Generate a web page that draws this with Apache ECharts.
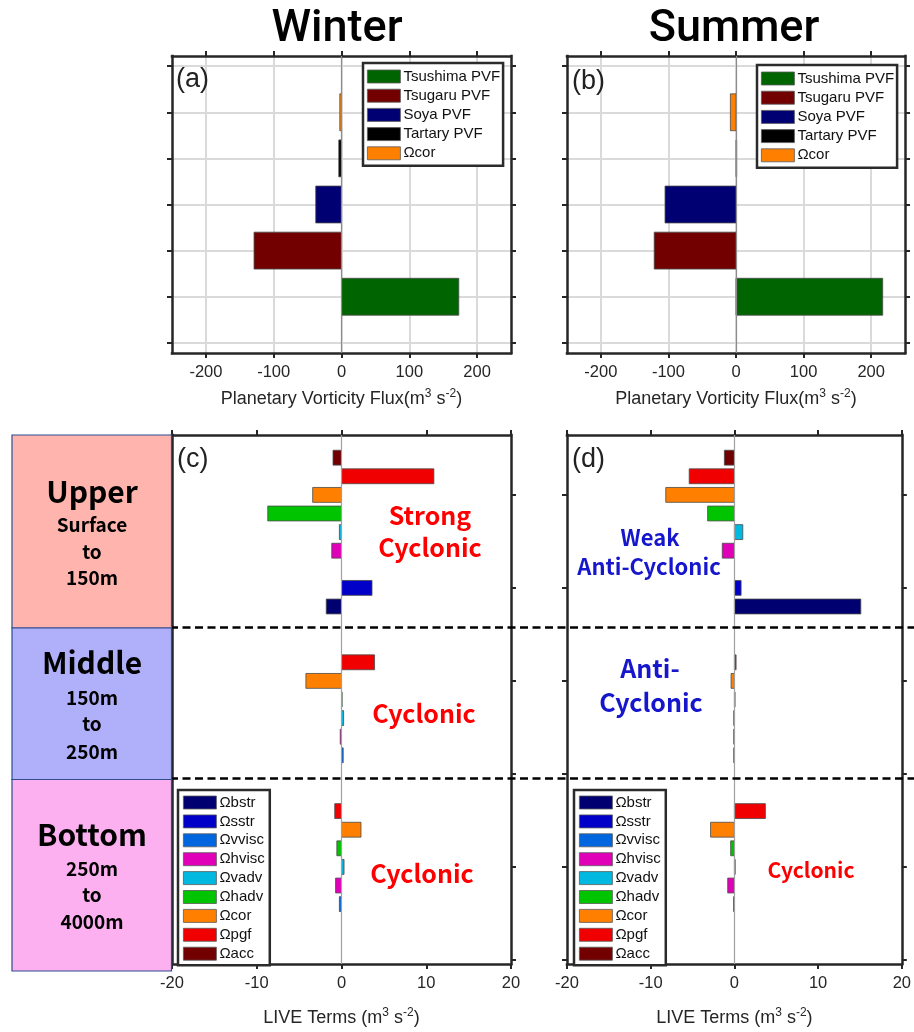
<!DOCTYPE html>
<html><head><meta charset="utf-8">
<script src="https://cdn.jsdelivr.net/npm/echarts@6/dist/echarts.min.js"></script>
<style>html,body{margin:0;padding:0;background:#fff}#c{width:914px;height:1032px}</style>
</head><body><div id="c"></div>
<script>
// ---------- Data: panels (a)/(b) planetary vorticity flux ----------
const pvfNames = ['Tsushima PVF', 'Tsugaru PVF', 'Soya PVF', 'Tartary PVF', 'Ωcor'];
const pvfPos = [1, 2, 3, 4, 5];
const pvfWinter = [173, -129, -38, -4, -2.5];
const pvfSummer = [217, -121, -105, 1, -8.3];
const pvfColors = ['#006400', '#720000', '#000072', '#000000', '#ff8000'];
const pvfXTicks = [-200, -100, 0, 100, 200];
const pvfYTicks = [0, 1, 2, 3, 4, 5, 6];

// ---------- Data: panels (c)/(d) LIVE terms ----------
const termNames = ['Ωacc', 'Ωpgf', 'Ωcor', 'Ωhadv', 'Ωvadv', 'Ωhvisc', 'Ωvvisc', 'Ωsstr', 'Ωbstr'];
const termColors = ['#720000', '#f00000', '#ff8000', '#00c400', '#00b8e0', '#e000b8', '#0066e0', '#0000c8', '#000070'];
const layerStart = [3, 13, 21];
const layerDividers = [12, 20];
const winterUpper  = [-1.0, 10.9, -3.4, -8.7, -0.25, -1.15, 0, 3.6, -1.8];
const winterMiddle = [0, 3.9, -4.2, 0.08, 0.25, -0.15, 0.2, 0, 0];
const winterBottom = [0, -0.8, 2.3, -0.55, 0.3, -0.7, -0.25, 0, 0];
const summerUpper  = [-1.2, -5.4, -8.2, -3.2, 1.0, -1.45, 0, 0.8, 15.1];
const summerMiddle = [0, 0.2, -0.4, 0.08, -0.08, -0.08, -0.08, 0, 0];
const summerBottom = [0, 3.7, -2.85, -0.45, 0.1, -0.8, -0.1, 0, 0];
const liveXTicks = [-20, -10, 0, 10, 20];
const liveYTicks = [5, 10, 15, 20, 25, 30];

// ---------- helpers ----------
const frameColor = '#262626';
const labelFont = 'Liberation Sans';
const xAxes = [], yAxes = [];

function addAxes(g, xc, yc) {
  const lineS = {show: true, onZero: false, lineStyle: {color: frameColor, width: 2.5, cap: 'square'}};
  const xt = {show: true, length: 5, lineStyle: {color: frameColor, width: 2}, customValues: xc.ticks};
  const yt = {show: true, length: 5, lineStyle: {color: frameColor, width: 2}, customValues: yc.ticks};
  const base = {type: 'value', gridIndex: g};
  xAxes.push(Object.assign({}, base, {
    position: 'bottom', min: xc.min, max: xc.max, interval: xc.interval,
    minInterval: xc.step, maxInterval: xc.step, splitNumber: xc.split,
    axisLine: lineS, axisTick: xt,
    axisLabel: {show: true, customValues: xc.ticks, margin: 11, color: '#262626', fontSize: 16.5, fontFamily: labelFont,
      formatter: v => (xc.ticks.indexOf(v) >= 0 ? String(v) : '')},
    splitLine: {show: xc.grid, lineStyle: {color: '#dadada', width: 2}},
    name: xc.name, nameLocation: 'middle', nameGap: xc.nameGap,
    nameTextStyle: {fontSize: 18, fontFamily: labelFont, color: '#262626',
      rich: {sup: {fontSize: 12, fontFamily: labelFont, color: '#262626', padding: [0, 0, 10, 0]}}}
  }));
  xAxes.push(Object.assign({}, base, {
    position: 'top', min: xc.min, max: xc.max, interval: xc.interval,
    minInterval: xc.step, maxInterval: xc.step, splitNumber: xc.split,
    axisLine: lineS, axisTick: xt, axisLabel: {show: false}, splitLine: {show: false}
  }));
  yAxes.push(Object.assign({}, base, {
    position: 'left', min: yc.min, max: yc.max, inverse: yc.inverse,
    minInterval: yc.step, maxInterval: yc.step, splitNumber: yc.split,
    axisLine: lineS, axisTick: yt, axisLabel: {show: false, customValues: yc.ticks},
    splitLine: {show: yc.grid, lineStyle: {color: '#dadada', width: 2}}
  }));
  yAxes.push(Object.assign({}, base, {
    position: 'right', min: yc.min, max: yc.max, inverse: yc.inverse,
    minInterval: yc.step, maxInterval: yc.step, splitNumber: yc.split,
    axisLine: lineS, axisTick: yt, axisLabel: {show: false}, splitLine: {show: false}
  }));
}

const pvfX = {min: -250, max: 250, step: 100, split: 5, ticks: pvfXTicks, grid: true,
  name: 'Planetary Vorticity Flux(m{sup|3} s{sup|-2})', nameGap: 35};
const pvfY = {min: -0.22, max: 6.22, step: 1, split: 6, ticks: pvfYTicks, grid: true, inverse: false};
const liveX = {min: -20, max: 20, interval: 10, ticks: liveXTicks, grid: false,
  name: 'LIVE Terms (m{sup|3} s{sup|-2})', nameGap: 43};
const liveY = {min: 1.78, max: 30.22, step: 5, split: 6, ticks: liveYTicks, grid: false, inverse: true};

addAxes(0, pvfX, pvfY);
addAxes(1, pvfX, pvfY);
addAxes(2, liveX, liveY);
addAxes(3, liveX, liveY);
// overlay (for the layer divider lines spanning both lower panels)
xAxes.push({type: 'value', gridIndex: 4, min: 0, max: 1, show: false});
yAxes.push({type: 'value', gridIndex: 4, min: liveY.min, max: liveY.max, inverse: true, show: false});

function barItem(params, api) {
  const v = api.value(0);
  if (!v) return null;
  const p = api.value(1);
  const a = api.coord([0, p]);
  const b = api.coord([v, p]);
  const h = api.size([0, 0.8])[1];
  return {
    type: 'rect',
    shape: {x: Math.min(a[0], b[0]), y: a[1] - h / 2, width: Math.abs(b[0] - a[0]), height: h},
    style: api.style({stroke: '#4a4a4a', lineWidth: 0.8})
  };
}

const series = [];
function zeroLine(g, color) {
  series.push({
    type: 'line', name: '_zero' + g, data: [], xAxisIndex: 2 * g, yAxisIndex: 2 * g, z: 1,
    markLine: {silent: true, symbol: 'none', label: {show: false}, animation: false,
      lineStyle: {color: color, width: 1.2, type: 'solid'}, data: [{xAxis: 0}]}
  });
}
zeroLine(0, '#8c8c8c'); zeroLine(1, '#8c8c8c'); zeroLine(2, '#a0a0a0'); zeroLine(3, '#a0a0a0');

[pvfWinter, pvfSummer].forEach((vals, g) => {
  pvfNames.forEach((n, i) => {
    series.push({
      type: 'custom', name: n, xAxisIndex: 2 * g, yAxisIndex: 2 * g, z: 3,
      itemStyle: {color: pvfColors[i]}, encode: {x: 0, y: 1},
      renderItem: barItem, data: [[vals[i], pvfPos[i]]]
    });
  });
});

[[winterUpper, winterMiddle, winterBottom], [summerUpper, summerMiddle, summerBottom]].forEach((layers, k) => {
  const g = k + 2;
  termNames.forEach((n, i) => {
    series.push({
      type: 'custom', name: n, xAxisIndex: 2 * g, yAxisIndex: 2 * g, z: 3,
      itemStyle: {color: termColors[i]}, encode: {x: 0, y: 1},
      renderItem: barItem,
      data: layers.map((arr, L) => [arr[i], layerStart[L] + i])
    });
  });
});

series.push({
  type: 'line', name: '_dividers', data: [], xAxisIndex: 8, yAxisIndex: 8, z: 5,
  markLine: {silent: true, symbol: 'none', label: {show: false}, animation: false,
    lineStyle: {color: '#000', width: 2.5, type: [8, 4.5]},
    data: layerDividers.map(v => ({yAxis: v}))}
});

function legend(left, top, names, pad, gap) {
  return {
    show: true, orient: 'vertical', left: left, top: top, data: names, icon: 'rect',
    itemWidth: 33, itemHeight: 13, itemGap: gap, padding: pad, selectedMode: false,
    borderColor: '#2b2b2b', borderWidth: 2.5, backgroundColor: '#fff', z: 20,
    itemStyle: {borderColor: '#5a5a5a', borderWidth: 0.8},
    textStyle: {fontFamily: labelFont, fontSize: 15, color: '#111', lineHeight: 13, padding: [0, 0, 0, -2]}
  };
}
const liveLegendOrder = termNames.slice().reverse();

// ---------- graphic decorations ----------
const G = [];
function txt(x, y, s, font, fill, z) {
  G.push({type: 'text', x: x, y: y, z: z || 30,
    style: {text: s, font: font, fill: fill, align: 'center', verticalAlign: 'middle'}});
}
function txtL(x, y, s, font) {
  G.push({type: 'text', x: x, y: y, z: 30,
    style: {text: s, font: font, fill: '#222', align: 'left', verticalAlign: 'middle'}});
}
txt(337, 30, 'Winter', '500 45px Roboto', '#000');
txt(734, 30, 'Summer', '500 45px Roboto', '#000');
txtL(176, 80, '(a)', '27px "Liberation Sans"');
txtL(572, 82, '(b)', '27px "Liberation Sans"');
txtL(177, 460, '(c)', '27px "Liberation Sans"');
txtL(572, 460, '(d)', '27px "Liberation Sans"');

const boxes = [
  {y0: 435, y1: 628, fill: '#ffb4ae', lines: ['Upper', 'Surface', 'to', '150m'], ys: [492, 525, 552, 578]},
  {y0: 628, y1: 779.5, fill: '#b0b0fa', lines: ['Middle', '150m', 'to', '250m'], ys: [663, 698, 724, 752]},
  {y0: 779.5, y1: 971, fill: '#fcb0f0', lines: ['Bottom', '250m', 'to', '4000m'], ys: [835, 869, 895, 922]}
];
boxes.forEach(b => {
  G.push({type: 'rect', z: 25, shape: {x: 12, y: b.y0, width: 159.5, height: b.y1 - b.y0},
    style: {fill: b.fill, stroke: '#2e4d8f', lineWidth: 1.2}});
  b.lines.forEach((s, j) => {
    txt(92, b.ys[j], s, j === 0 ? 'bold 30px "Noto Sans CJK SC"' : 'bold 19px "Noto Sans CJK SC"', '#000');
  });
});

const red = '#ff0000', blue = '#1616cc';
const ann = 'bold 25px "Noto Sans CJK SC"';
txt(430, 515, 'Strong', ann, red);
txt(430, 547, 'Cyclonic', ann, red);
txt(424, 713, 'Cyclonic', ann, red);
txt(422, 873, 'Cyclonic', ann, red);
txt(650, 538, 'Weak', 'bold 22px "Noto Sans CJK SC"', blue);
txt(649, 567, 'Anti-Cyclonic', 'bold 22px "Noto Sans CJK SC"', blue);
txt(650, 668, 'Anti-', ann, blue);
txt(651, 702, 'Cyclonic', ann, blue);
txt(811, 870, 'Cyclonic', 'bold 21px "Noto Sans CJK SC"', red);

const chart = echarts.init(document.getElementById('c'), null, {renderer: 'canvas'});
chart.setOption({
  animation: false,
  backgroundColor: '#fff',
  grid: [
    {left: 172, top: 56, width: 339, height: 297},
    {left: 567, top: 56, width: 338, height: 297},
    {left: 172, top: 435, width: 339, height: 536},
    {left: 567, top: 435, width: 338, height: 536},
    {left: 170, top: 435, width: 744, height: 536}
  ],
  xAxis: xAxes,
  yAxis: yAxes,
  legend: [
    legend(363, 63, pvfNames, [6, 3, 5, 4], 4.2),
    legend(757, 65, pvfNames, [6, 3, 5, 4], 4.2),
    legend(178, 790, liveLegendOrder, [5, 5, 4, 5], 3.9),
    legend(574, 790, liveLegendOrder, [5, 5, 4, 5], 3.9)
  ],
  series: series,
  graphic: G
});
</script></body></html>
